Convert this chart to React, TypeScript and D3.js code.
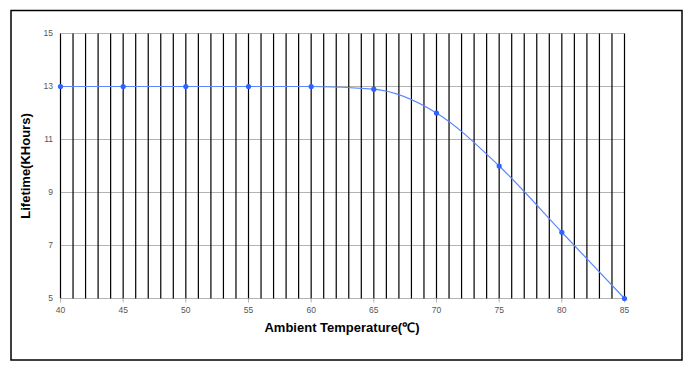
import React from 'react';
import * as d3 from 'd3';

// values
const temps = [40, 45, 50, 55, 60, 65, 70, 75, 80, 85];
const lifetime = [13, 13, 13, 13, 13, 12.9, 12, 10, 7.5, 5];
const yTicks = [5, 7, 9, 11, 13, 15];
const xTicks = [40, 45, 50, 55, 60, 65, 70, 75, 80, 85];

const W = 695;
const H = 375;

export default function App() {
  const x = d3.scaleLinear().domain([40, 85]).range([60.5, 624.5]);
  const y = d3.scaleLinear().domain([5, 15]).range([298.5, 33.5]);

  const line = d3
    .line<number>()
    .x((_, i) => x(temps[i]))
    .y((d) => y(d))
    .curve(d3.curveMonotoneX);

  // black vertical line every 1 degree
  const vLines = d3.range(40, 86, 1);

  return (
    <div style={{ position: 'absolute', left: 0, top: 0 }}>
      <svg width={W} height={H} style={{ display: 'block', background: '#fff' }}>
        {/* outer frame */}
        <rect x={11} y={10.5} width={671} height={349.5} fill="none" stroke="#000" strokeWidth={1.5} />

        {/* horizontal grid */}
        {yTicks.map((t) => (
          <line key={'h' + t} x1={x(40)} x2={x(85)} y1={y(t)} y2={y(t)} stroke="#b3b3b3" strokeWidth={1} />
        ))}

        {/* vertical black lines */}
        {vLines.map((v) => (
          <line key={'v' + v} x1={x(v)} x2={x(v)} y1={y(15)} y2={y(5)} stroke="#000" strokeWidth={1.2} />
        ))}

        {/* x tick marks */}
        {xTicks.map((t) => (
          <line key={'xt' + t} x1={x(t)} x2={x(t)} y1={y(5)} y2={y(5) + 4} stroke="#b3b3b3" strokeWidth={1} />
        ))}

        {/* y tick labels */}
        {yTicks.map((t) => (
          <text
            key={'yl' + t}
            x={53}
            y={y(t)}
            dy="0.35em"
            textAnchor="end"
            fontFamily="Arial, 'Liberation Sans', sans-serif"
            fontSize={8.5}
            fill="#555"
          >
            {t}
          </text>
        ))}

        {/* x tick labels */}
        {xTicks.map((t) => (
          <text
            key={'xl' + t}
            x={x(t)}
            y={313}
            textAnchor="middle"
            fontFamily="Arial, 'Liberation Sans', sans-serif"
            fontSize={8.5}
            fill="#555"
          >
            {t}
          </text>
        ))}

        {/* series */}
        <path d={line(lifetime) || ''} fill="none" stroke="#5b86ff" strokeWidth={1.2} />
        {lifetime.map((d, i) => (
          <circle key={'p' + i} cx={x(temps[i])} cy={y(d)} r={2.6} fill="#2f62ff" />
        ))}

        {/* axis titles */}
        <text
          x={342}
          y={332}
          textAnchor="middle"
          fontFamily="Arial, 'Liberation Sans', sans-serif"
          fontSize={13}
          fontWeight="bold"
          fill="#000"
        >
          Ambient Temperature(℃)
        </text>
        <text
          transform={`translate(30,${(y(5) + y(15)) / 2}) rotate(-90)`}
          textAnchor="middle"
          fontFamily="Arial, 'Liberation Sans', sans-serif"
          fontSize={13}
          fontWeight="bold"
          fill="#000"
        >
          Lifetime(KHours)
        </text>
      </svg>
    </div>
  );
}
